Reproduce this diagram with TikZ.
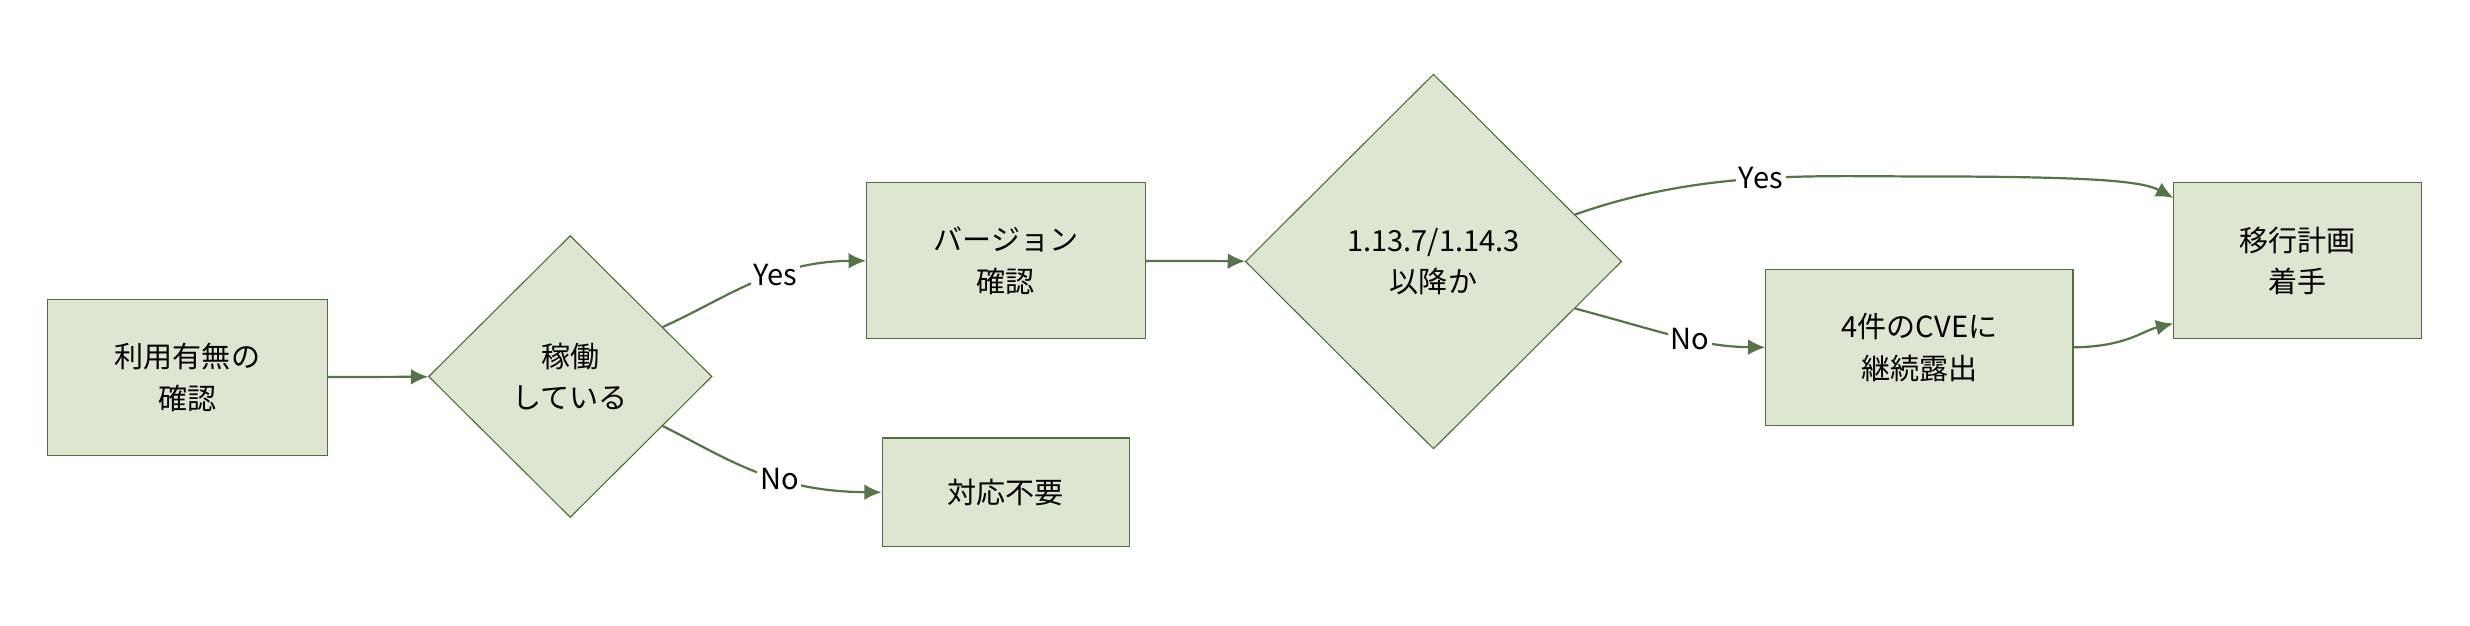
\documentclass[tikz,border=0pt]{standalone}
\usepackage{fontspec}
\setmainfont{Noto Sans CJK JP}
\usetikzlibrary{positioning,calc,shapes.geometric,arrows.meta}
\definecolor{boxfill}{RGB}{221,230,208}
\definecolor{boxline}{RGB}{80,110,64}
\definecolor{arrowgreen}{RGB}{86,115,74}

\begin{document}
\begin{tikzpicture}[x=0.02cm,y=-0.02cm,
	font=\fontsize{10.5}{15}\selectfont,
	box/.style={draw=boxline,fill=boxfill,align=center,inner sep=0pt},
	decide/.style={diamond,draw=boxline,fill=boxfill,align=center,inner sep=0pt},
	flow/.style={draw=arrowgreen,thick,-{Latex[length=2.2mm,width=2mm]}},
	tag/.style={fill=white,inner sep=1pt}]
	\useasboundingbox (0,0) rectangle (1568,397);
	% nodes
	\node[box,minimum width=3.56cm,minimum height=1.98cm] (check) at (119,239.5) {利用有無の\\確認};
	\node[decide,minimum width=3.6cm,minimum height=3.58cm] (running) at (362,239) {稼働\\している};
	\node[box,minimum width=3.54cm,minimum height=1.98cm] (version) at (638.5,165.5) {バージョン\\確認};
	\node[box,minimum width=3.14cm,minimum height=1.38cm] (noneed) at (638.5,312.5) {対応不要};
	\node[decide,minimum width=4.78cm,minimum height=4.76cm] (newer) at (910,166) {1.13.7/1.14.3\\以降か};
	\node[box,minimum width=3.9cm,minimum height=1.98cm] (cve) at (1218.5,220.5) {4件のCVEに\\継続露出};
	\node[box,minimum width=3.14cm,minimum height=1.98cm] (migrate) at (1458.5,165.5) {移行計画\\着手};
	% connectors
	\draw[flow] (check) -- (running);
	\draw[flow] ($(running.east)!0.35!(running.north)$) .. controls (460,190) and (490,166) .. node[tag,pos=0.62] {Yes} (version.west);
	\draw[flow] ($(running.east)!0.35!(running.south)$) .. controls (460,290) and (490,312) .. node[tag,pos=0.62] {No} (noneed.west);
	\draw[flow] (version) -- (newer);
	\draw[flow] ($(newer.east)!0.25!(newer.north)$) .. controls (1080,108) and (1150,112) .. node[tag,pos=0.52] {Yes} (1218,112) .. controls (1330,112) and (1360,115) .. ($(migrate.north west)!0.1!(migrate.south west)$);
	\draw[flow] ($(newer.east)!0.25!(newer.south)$) .. controls (1060,212) and (1080,220) .. node[tag,pos=0.55] {No} (cve.west);
	\draw[flow] (cve.east) .. controls (1350,220) and (1360,210) .. ($(migrate.south west)!0.1!(migrate.north west)$);
\end{tikzpicture}
\end{document}
